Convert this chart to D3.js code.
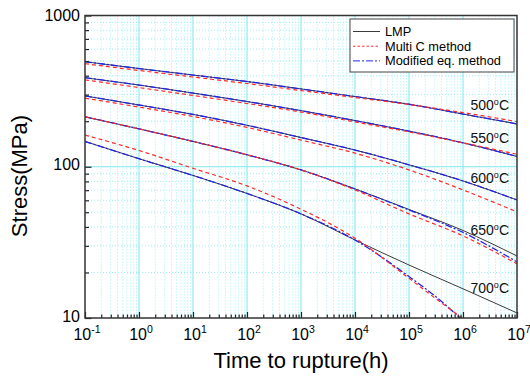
<!DOCTYPE html>
<html>
<head>
<meta charset="utf-8">
<script src="https://cdn.jsdelivr.net/npm/d3@7"></script>
<style>
  body { margin: 0; background: #fff; }
  svg { font-family: "Liberation Sans", Arial, sans-serif; }
</style>
</head>
<body>
<div id="chart"></div>
<script>
///////////////////// DATA /////////////////////////
// time to rupture (h)
const hours    = [0.1, 1, 10, 100, 1e3, 1e4, 1e5, 1e6, 1e7];
const hours700 = [0.1, 1, 10, 100, 1e3, 1e4, 1e5, 3.16e5, 1e6];

const temps = ["500", "550", "600", "650", "700"];

// LMP (stress, MPa)
const lmp500 = [495, 446, 404, 366, 327, 291, 259, 223, 192];
const lmp550 = [388, 347, 307, 270, 235, 202, 172, 144, 117];
const lmp600 = [294, 256, 222, 188, 156, 129, 103, 80.6, 60.3];
const lmp650 = [214, 178, 147, 120, 95.3, 71.3, 52.2, 37.9, 25.7];
const lmp700 = [147, 113, 87.6, 66.6, 48.8, 32.8, 22.4, 15.6, 10.8];

// Multi C method
const multi500 = [480, 433, 392, 355, 319, 287, 258, 228, 199];
const multi550 = [375, 334, 296, 262, 230, 198, 170, 144, 121];
const multi600 = [284, 248, 215, 182, 150, 123, 95.3, 70.3, 50.3];
const multi650 = [214, 178, 147, 120, 95.3, 70.3, 48.8, 34.9, 22.8];
const multi700 = [162, 128, 97.7, 74.7, 52.4, 33.7, 18.3, 13.4, 9.9];

// Modified eq. method
const mod500 = [495, 446, 404, 366, 327, 291, 259, 223, 192];
const mod550 = [388, 347, 307, 270, 235, 202, 172, 144, 117];
const mod600 = [294, 256, 222, 188, 156, 129, 103, 80.6, 60.3];
const mod650 = [214, 178, 147, 120, 95.3, 71.3, 51.8, 36.8, 23.5];
const mod700 = [147, 113, 87.6, 66.6, 48.8, 32.8, 18.8, 13.8, 9.6];

// label baselines (stress, MPa)
const tempLabelStress = [237, 144, 78, 35.4, 14.6];

const xTicks = [0.1, 1, 10, 100, 1e3, 1e4, 1e5, 1e6, 1e7];
const xExp = ["-1", "0", "1", "2", "3", "4", "5", "6", "7"];
const yTicks = [10, 100, 1000];

///////////////////// CHART /////////////////////////
let width = 530, height = 376;
let m = {left: 85, right: 517, top: 15.5, bottom: 318};

let svg = d3.select("#chart").append("svg")
    .attr("width", width)
    .attr("height", height);

let x = d3.scaleLog().domain([0.1, 1e7]).range([m.left, m.right]);
let y = d3.scaleLog().domain([10, 1000]).range([m.bottom, m.top]);

// minor values
let xMinor = [];
xTicks.slice(0, -1).forEach(d => { for (let k = 2; k <= 9; k++) xMinor.push(d * k); });
let yMinor = [];
[10, 100].forEach(d => { for (let k = 2; k <= 9; k++) yMinor.push(d * k); });

// grid
let grid = svg.append("g");
grid.selectAll(".vmin").data(xMinor).enter().append("line")
    .attr("x1", d => x(d)).attr("x2", d => x(d))
    .attr("y1", m.top).attr("y2", m.bottom)
    .style("stroke", "#9eeef5").style("stroke-dasharray", "1,2");
grid.selectAll(".hmin").data(yMinor).enter().append("line")
    .attr("x1", m.left).attr("x2", m.right)
    .attr("y1", d => y(d)).attr("y2", d => y(d))
    .style("stroke", "#9eeef5").style("stroke-dasharray", "1,2");
grid.selectAll(".vmaj").data(xTicks.slice(1, -1)).enter().append("line")
    .attr("x1", d => x(d)).attr("x2", d => x(d))
    .attr("y1", m.top).attr("y2", m.bottom)
    .style("stroke", "#7fe6ec");
grid.append("line")
    .attr("x1", m.left).attr("x2", m.right)
    .attr("y1", y(100)).attr("y2", y(100))
    .style("stroke", "#7fe6ec");

// curves
svg.append("clipPath").attr("id", "clip")
    .append("rect").attr("x", m.left).attr("y", m.top)
    .attr("width", m.right - m.left).attr("height", m.bottom - m.top);

let line = d3.line()
    .x(d => x(d[0]))
    .y(d => y(d[1]))
    .curve(d3.curveMonotoneX);

let series = [
    {t: hours, v: lmp500, c: "lmp"}, {t: hours, v: lmp550, c: "lmp"},
    {t: hours, v: lmp600, c: "lmp"}, {t: hours, v: lmp650, c: "lmp"},
    {t: hours, v: lmp700, c: "lmp"},
    {t: hours, v: mod500, c: "mod"}, {t: hours, v: mod550, c: "mod"},
    {t: hours, v: mod600, c: "mod"}, {t: hours, v: mod650, c: "mod"},
    {t: hours700, v: mod700, c: "mod"},
    {t: hours, v: multi500, c: "multi"}, {t: hours, v: multi550, c: "multi"},
    {t: hours, v: multi600, c: "multi"}, {t: hours, v: multi650, c: "multi"},
    {t: hours700, v: multi700, c: "multi"}
];

let styles = {
    lmp:   {stroke: "#3a3a3a", dash: null, w: 1},
    mod:   {stroke: "#2424e6", dash: "7,2,2,2", w: 1.3},
    multi: {stroke: "#ff2a2a", dash: "4,3", w: 1.2}
};

svg.append("g").attr("clip-path", "url(#clip)")
    .selectAll("path").data(series).enter().append("path")
    .attr("d", d => line(d.t.map((t, i) => [t, d.v[i]])))
    .style("fill", "none")
    .style("stroke", d => styles[d.c].stroke)
    .style("stroke-width", d => styles[d.c].w)
    .style("stroke-dasharray", d => styles[d.c].dash);

// temperature labels
let tl = svg.append("g").selectAll("text").data(temps).enter().append("text")
    .attr("x", 509)
    .attr("y", (d, i) => y(tempLabelStress[i]))
    .attr("text-anchor", "end")
    .style("font-size", "14px")
    .style("fill", "#111");
tl.append("tspan").text(d => d);
tl.append("tspan").text("o").attr("dy", -5).style("font-size", "9px");
tl.append("tspan").text("C").attr("dy", 5);

// axes (ticks inside)
svg.append("g").attr("transform", `translate(0,${m.bottom})`)
    .call(d3.axisBottom(x).tickValues(xMinor).tickSize(-3.5).tickFormat(""))
    .call(g => g.select(".domain").remove());
svg.append("g").attr("transform", `translate(0,${m.bottom})`)
    .call(d3.axisBottom(x).tickValues(xTicks).tickSize(-6).tickFormat(""))
    .call(g => g.select(".domain").remove());
svg.append("g").attr("transform", `translate(${m.left},0)`)
    .call(d3.axisLeft(y).tickValues(yMinor).tickSize(-4).tickFormat(""))
    .call(g => g.select(".domain").remove());
svg.append("g").attr("transform", `translate(${m.left},0)`)
    .call(d3.axisLeft(y).tickValues(yTicks).tickSize(-6.5).tickFormat(""))
    .call(g => g.select(".domain").remove());
svg.selectAll(".tick line").style("stroke", "#222").style("stroke-width", 1.2);

// frame
svg.append("rect")
    .attr("x", m.left).attr("y", m.top)
    .attr("width", m.right - m.left).attr("height", m.bottom - m.top)
    .style("fill", "none").style("stroke", "#333").style("stroke-width", 1.5);

// tick labels
let xl = svg.append("g").selectAll("text").data(xTicks).enter().append("text")
    .attr("x", d => x(d) + 2)
    .attr("y", 340)
    .attr("text-anchor", "middle")
    .style("font-size", "16px");
xl.append("tspan").text("10");
xl.append("tspan").text((d, i) => xExp[i]).attr("dy", -7).style("font-size", "10.5px");

svg.append("g").selectAll("text").data(yTicks).enter().append("text")
    .attr("x", 80)
    .attr("y", d => Math.max(y(d) + 3.5, 21))
    .attr("text-anchor", "end")
    .style("font-size", "16px")
    .text(d => d);

// axis titles
svg.append("text")
    .attr("x", 301).attr("y", 368)
    .attr("text-anchor", "middle")
    .style("font-size", "22px")
    .text("Time to rupture(h)");
svg.append("text")
    .attr("transform", "translate(27,176) rotate(-90)")
    .attr("text-anchor", "middle")
    .style("font-size", "22px")
    .text("Stress(MPa)");

// legend
let lg = svg.append("g");
lg.append("rect")
    .attr("x", 350).attr("y", 19).attr("width", 164).attr("height", 53)
    .style("fill", "#fff").style("stroke", "#444").style("stroke-width", 1);
let legendItems = [
    {c: "lmp", label: "LMP"},
    {c: "multi", label: "Multi C method"},
    {c: "mod", label: "Modified eq. method"}
];
legendItems.forEach((d, i) => {
    let ly = 31.5 + i * 14.7;
    lg.append("line")
        .attr("x1", 353).attr("x2", 380).attr("y1", ly).attr("y2", ly)
        .style("stroke", styles[d.c].stroke)
        .style("stroke-width", 1)
        .style("stroke-dasharray", d.c == "multi" ? "2.5,2" : styles[d.c].dash);
    lg.append("text")
        .attr("x", 385).attr("y", ly + 4.5)
        .style("font-size", "12.8px")
        .text(d.label);
});
</script>
</body>
</html>
